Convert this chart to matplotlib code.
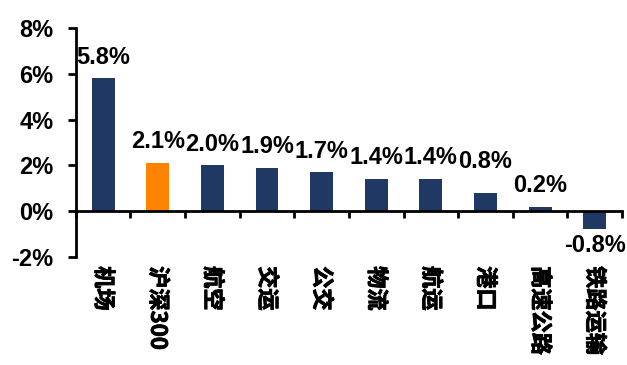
import matplotlib
matplotlib.use("Agg")
import matplotlib.pyplot as plt
import matplotlib.patheffects as pe
import numpy as np

plt.rcParams['font.family'] = ['Liberation Sans', 'Noto Sans CJK SC', 'DejaVu Sans']

categories = ["机场", "沪深300", "航空", "交运", "公交", "物流", "航运", "港口", "高速公路", "铁路运输"]
values = [5.8, 2.1, 2.0, 1.9, 1.7, 1.4, 1.4, 0.8, 0.2, -0.8]
highlight = "沪深300"
y_ticks = [-2, 0, 2, 4, 6, 8]

navy = "#1F3864"
orange = "#FF8300"

fig = plt.figure(figsize=(6.27, 3.65), dpi=100)
ax = fig.add_axes([0.121, 0.296, 0.871, 0.627])

x = np.arange(len(categories))
colors = [orange if c == highlight else navy for c in categories]
ax.bar(x, values, width=0.42, color=colors, zorder=2)

ax.set_xlim(-0.5, len(categories) - 0.5)
ax.set_ylim(-2, 8)
ax.set_yticks(y_ticks)
ax.set_yticklabels([f"{t}%" for t in y_ticks], fontsize=17, fontweight='bold')

# category boundaries carry the tick marks on the zero line
ax.set_xticks(np.arange(len(categories) + 1) - 0.5)
ax.set_xticklabels([])
ax.tick_params(axis='x', direction='out', length=5, width=2)
ax.tick_params(axis='y', direction='out', length=6, width=2, pad=10)

for s in ['top', 'right']:
    ax.spines[s].set_visible(False)
ax.spines['left'].set_linewidth(2)
ax.spines['bottom'].set_linewidth(2)
ax.spines['bottom'].set_position(('data', 0))

# value labels
for xi, v, c in zip(x, values, categories):
    extra = 7 if c == "港口" else 0
    if v >= 0:
        ax.annotate(f"{v:.1f}%", (xi, v), xytext=(0, 7 + extra), textcoords='offset points',
                    ha='center', va='bottom', fontsize=17, fontweight='bold')
    else:
        ax.annotate(f"{v:.1f}%", (xi, v), xytext=(0, -3), textcoords='offset points',
                    ha='center', va='top', fontsize=17, fontweight='bold')

# rotated category names under the axes
thick = [pe.withStroke(linewidth=0.6, foreground='black')]
for xi, c in zip(x, categories):
    ax.text(xi, -2.4, c, rotation=-90, ha='center', va='top', fontsize=16,
            fontweight='bold', family=['Noto Sans CJK SC', 'DejaVu Sans'],
            path_effects=thick, clip_on=False)

fig.savefig("out.png", dpi=100)
